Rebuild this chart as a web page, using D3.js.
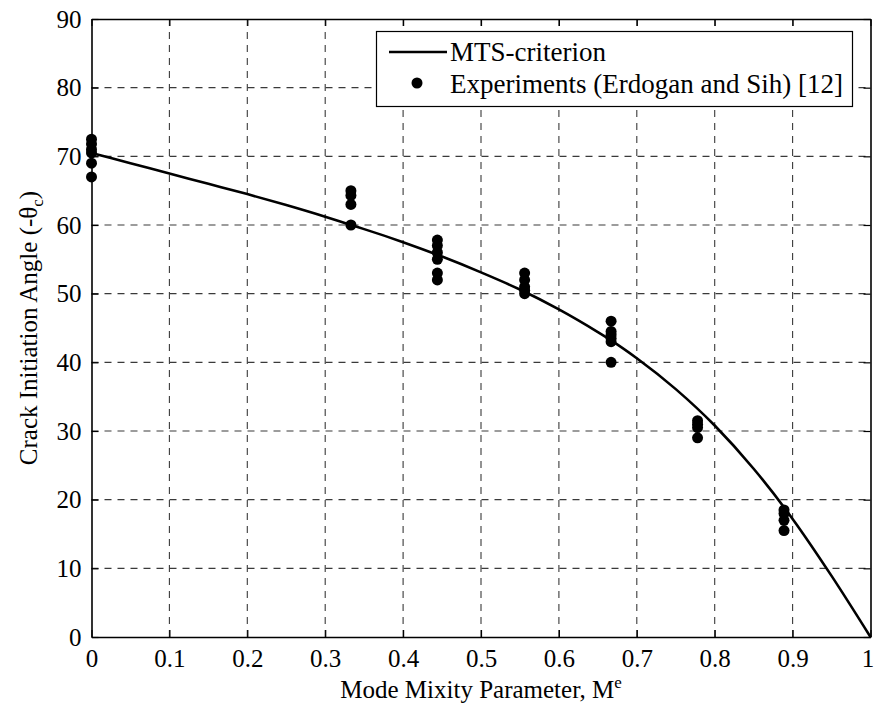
<!DOCTYPE html>
<html><head><meta charset="utf-8">
<script src="https://cdn.jsdelivr.net/npm/d3@7"></script>
<style>body{margin:0;background:#fff}svg{display:block}text{font-family:"Liberation Serif","Times New Roman",serif}</style>
</head><body>
<script>
// MTS-criterion curve
const curveM = [0,0.05,0.1,0.15,0.2,0.25,0.3,0.333,0.35,0.4,0.45,0.5,0.55,0.6,0.65,0.667,0.7,0.75,0.8,0.85,0.9,0.95,1.0];
const curveTheta = [70.5,69.0,67.5,66.0,64.5,62.9,61.2,60.0,59.4,57.5,55.4,53.1,50.6,47.7,44.4,43.2,40.6,36.1,30.8,24.5,17.2,8.9,0];
// Experiments (Erdogan and Sih)
const expM = [0,0,0,0,0,0, 0.333,0.333,0.333,0.333, 0.444,0.444,0.444,0.444,0.444,0.444, 0.556,0.556,0.556,0.556,0.556, 0.667,0.667,0.667,0.667,0.667,0.667, 0.778,0.778,0.778,0.778, 0.889,0.889,0.889,0.889];
const expTheta = [72.5,71.8,71,70.5,69,67, 65,64.3,63,60, 57.8,57,56,55,53,52, 53,52,51,50.5,50, 46,44.5,44,43.5,43,40, 31.5,31,30.5,29, 18.5,18,17,15.5];
const xTicks = [0,0.1,0.2,0.3,0.4,0.5,0.6,0.7,0.8,0.9,1];
const yTicks = [0,10,20,30,40,50,60,70,80,90];
const legendLabels = ["MTS-criterion","Experiments (Erdogan and Sih) [12]"];

const W = 875, H = 718;
const m = {left:91.5, right:870.5, top:19, bottom:637};
const svg = d3.select("body").append("svg").attr("width",W).attr("height",H);
const x = d3.scaleLinear().domain([0,1]).range([m.left,m.right]);
const y = d3.scaleLinear().domain([0,90]).range([m.bottom,m.top]);

// grid
const g = svg.append("g");
g.selectAll("line.vx").data(xTicks.slice(1,-1)).enter().append("line")
  .attr("x1",d=>x(d)).attr("x2",d=>x(d)).attr("y1",m.top).attr("y2",m.bottom)
  .attr("stroke","#3a3a3a").attr("stroke-width",1.1).attr("stroke-dasharray","7,6");
g.selectAll("line.hy").data(yTicks.slice(1,-1)).enter().append("line")
  .attr("y1",d=>y(d)).attr("y2",d=>y(d)).attr("x1",m.left).attr("x2",m.right)
  .attr("stroke","#3a3a3a").attr("stroke-width",1.1).attr("stroke-dasharray","7,6");

// axes with inward ticks
const fs = 25;
const xb = svg.append("g").attr("transform",`translate(0,${m.bottom})`)
  .call(d3.axisBottom(x).tickValues(xTicks).tickSizeInner(-7).tickSizeOuter(0).tickPadding(12).tickFormat(d=>d3.format("")(d)));
const xt = svg.append("g").attr("transform",`translate(0,${m.top})`)
  .call(d3.axisTop(x).tickValues(xTicks).tickSizeInner(-7).tickSizeOuter(0).tickFormat(""));
const yl = svg.append("g").attr("transform",`translate(${m.left},0)`)
  .call(d3.axisLeft(y).tickValues(yTicks).tickSizeInner(-7).tickSizeOuter(0).tickPadding(10));
const yr = svg.append("g").attr("transform",`translate(${m.right},0)`)
  .call(d3.axisRight(y).tickValues(yTicks).tickSizeInner(-7).tickSizeOuter(0).tickFormat(""));
[xb,xt,yl,yr].forEach(a=>{
  a.select(".domain").attr("stroke","#000").attr("stroke-width",1.6);
  a.selectAll(".tick line").attr("stroke","#000").attr("stroke-width",1.2);
  a.selectAll("text").attr("font-size",fs).attr("fill","#000").style("font-family","Liberation Serif");
});
// keep the last x label inside the window
xb.selectAll(".tick text").filter(d=>d===1).attr("dx",-3);

// curve
const line = d3.line().x((d,i)=>x(curveM[i])).y((d,i)=>y(curveTheta[i])).curve(d3.curveMonotoneX);
svg.append("path").datum(curveTheta).attr("d",line).attr("fill","none").attr("stroke","#000").attr("stroke-width",2.6);

// points
svg.selectAll("circle.e").data(expTheta).enter().append("circle")
  .attr("cx",(d,i)=>x(expM[i])).attr("cy",d=>y(d)).attr("r",5.5).attr("fill","#000");

// legend
const lg = svg.append("g");
lg.append("rect").attr("x",376.5).attr("y",31.5).attr("width",476).attr("height",75)
  .attr("fill","#fff").attr("stroke","#000").attr("stroke-width",1.2);
lg.append("line").attr("x1",389).attr("x2",447).attr("y1",52).attr("y2",52).attr("stroke","#000").attr("stroke-width",2.6);
lg.append("circle").attr("cx",417).attr("cy",83).attr("r",5.5).attr("fill","#000");
lg.append("text").attr("x",450).attr("y",61).attr("font-size",27).text(legendLabels[0]);
lg.append("text").attr("x",450).attr("y",93).attr("font-size",27).text(legendLabels[1]);

// axis titles
const xtitle = svg.append("text").attr("x",(m.left+m.right)/2).attr("y",698).attr("text-anchor","middle").attr("font-size",fs);
xtitle.append("tspan").text("Mode Mixity Parameter, M");
xtitle.append("tspan").attr("dy",-10).attr("font-size",17).text("e");
const ytitle = svg.append("text").attr("transform",`translate(37,${(m.top+m.bottom)/2}) rotate(-90)`).attr("text-anchor","middle").attr("font-size",fs);
ytitle.append("tspan").text("Crack Initiation Angle (-θ");
ytitle.append("tspan").attr("dy",6).attr("font-size",17).text("c");
ytitle.append("tspan").attr("dy",-6).text(")");
</script>
</body></html>
